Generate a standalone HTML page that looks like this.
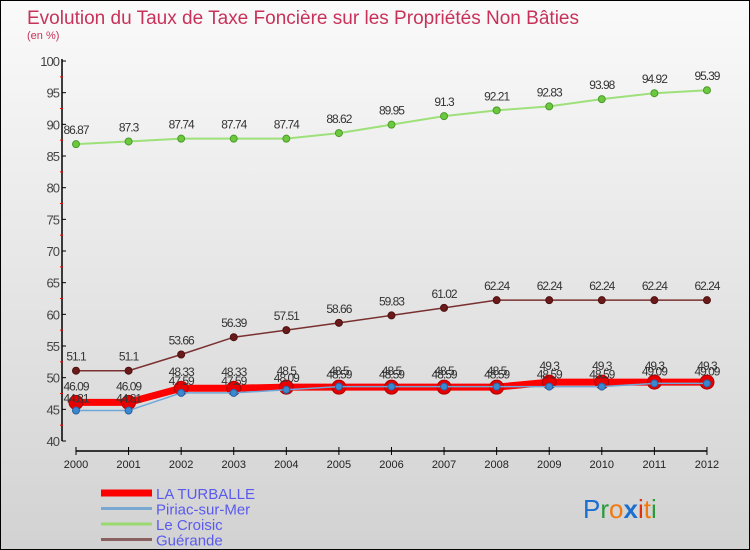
<!DOCTYPE html>
<html><head><meta charset="utf-8"><style>
html,body{margin:0;padding:0}
body{width:750px;height:550px;overflow:hidden;font-family:"Liberation Sans",sans-serif}
#wrap{position:absolute;left:0;top:0;width:748px;height:548px;border:1px solid #000;background:linear-gradient(#fafafa,#d2d2d2)}
</style></head><body>
<div id="wrap">
<svg id="chart" width="748" height="548" style="position:absolute;left:0;top:0">
<text x="26" y="23" font-size="19" fill="#c8325a" textLength="552">Evolution du Taux de Taxe Foncière sur les Propriétés Non Bâties</text>
<text x="26" y="38" font-size="11" fill="#c8325a">(en %)</text>
<g id="axes"></g><g id="series"></g><g id="legend"></g>
<text x="582" y="517" font-size="26"><tspan fill="#1a6fd0">P</tspan><tspan fill="#2a9a3a">r</tspan><tspan fill="#f07a10">o</tspan><tspan fill="#1a6fd0" font-weight="bold">x</tspan><tspan fill="#e03010">i</tspan><tspan fill="#f07a10">t</tspan><tspan fill="#2a9a3a">i</tspan></text>
</svg>
</div>
<script>
const years=["2000","2001","2002","2003","2004","2005","2006","2007","2008","2009","2010","2011","2012"];
const yTicks=[40,45,50,55,60,65,70,75,80,85,90,95,100];
const turballe=[46.09,46.09,48.33,48.33,48.5,48.5,48.5,48.5,48.5,49.3,49.3,49.3,49.3];
const piriac=[44.81,44.81,47.59,47.59,48.09,48.59,48.59,48.59,48.59,48.59,48.59,49.09,49.09];
const croisic=[86.87,87.3,87.74,87.74,87.74,88.62,89.95,91.3,92.21,92.83,93.98,94.92,95.39];
const guerande=[51.1,51.1,53.66,56.39,57.51,58.66,59.83,61.02,62.24,62.24,62.24,62.24,62.24];
const seriesNames=["LA TURBALLE","Piriac-sur-Mer","Le Croisic","Guérande"];
const NS="http://www.w3.org/2000/svg";
function X(i){return 75+i*52.58;}
function Y(v){return 440-(v-40)*6.333;}
function mk(t,a,p){const e=document.createElementNS(NS,t);for(const k in a)e.setAttribute(k,a[k]);p.appendChild(e);return e;}
const axes=document.getElementById('axes');
let l=mk('line',{x1:61,y1:58,x2:61,y2:440,stroke:'#000','stroke-width':1.5},axes);

l=mk('line',{x1:X(0),y1:450,x2:X(12),y2:450,stroke:'#000','stroke-width':1.5},axes);

yTicks.forEach(v=>{
 mk('line',{x1:61,y1:Y(v),x2:65,y2:Y(v),stroke:'#000'},axes);
 if(v<100)mk('line',{x1:59,y1:Y(v+2.5),x2:62,y2:Y(v+2.5),stroke:'#f00'},axes);
 const t=mk('text',{x:58,y:Y(v)+5,'text-anchor':'end','font-size':13,fill:'#444','letter-spacing':'-1'},axes);
 t.textContent=v;
 
});
years.forEach((y,i)=>{
 mk('line',{x1:X(i),y1:446,x2:X(i),y2:454,stroke:'#000'},axes);
 const t=mk('text',{x:X(i),y:467,'text-anchor':'middle','font-size':11,fill:'#222'},axes);
 t.textContent=y;
 
});
const sg=document.getElementById('series');
function draw(vals,name,color,w,mr,mfill,mstroke,labelDy){
 const g=mk('g',{},sg);
 
 const pts=vals.map((v,i)=>X(i)+','+Y(v)).join(' ');
 mk('polyline',{points:pts,fill:'none',stroke:color,'stroke-width':w},g);
 vals.forEach((v,i)=>{
  const c=mk('circle',{cx:X(i),cy:Y(v),r:mr,fill:mfill,stroke:mstroke,'stroke-width':1},g);
  
  const t=mk('text',{x:X(i),y:Y(v)+labelDy,'text-anchor':'middle','font-size':12,fill:'#333','letter-spacing':'-1'},g);
  t.textContent=String(v);
  
 });
}
draw(croisic,'le-croisic','#9ee07a',2,3.5,'#6cc83c','#4a9a2a',-10);
draw(guerande,'guerande','#7a3030',1.5,3.5,'#6a1a1a','#501010',-10);
draw(turballe,'la-turballe','#f00',7,7,'#e80000','#b00000',-12);
draw(piriac,'piriac-sur-mer','#6fa8d8',1.5,3.5,'#3a88d0','#2a60a0',-8);
const lg=document.getElementById('legend');
const lc=[['#f00',7],['#7aa8d0',3],['#9ad870',3],['#8a6060',3]];
seriesNames.forEach((n,i)=>{
 const y=492+i*15.5;
 const g=mk('g',{},lg);
 
 mk('line',{x1:100,y1:y,x2:151,y2:y,stroke:lc[i][0],'stroke-width':lc[i][1]},g);
 const t=mk('text',{x:155,y:y+6,'font-size':15,fill:'#5a5aee'},g);
 t.textContent=n;
});
</script>
</body></html>
